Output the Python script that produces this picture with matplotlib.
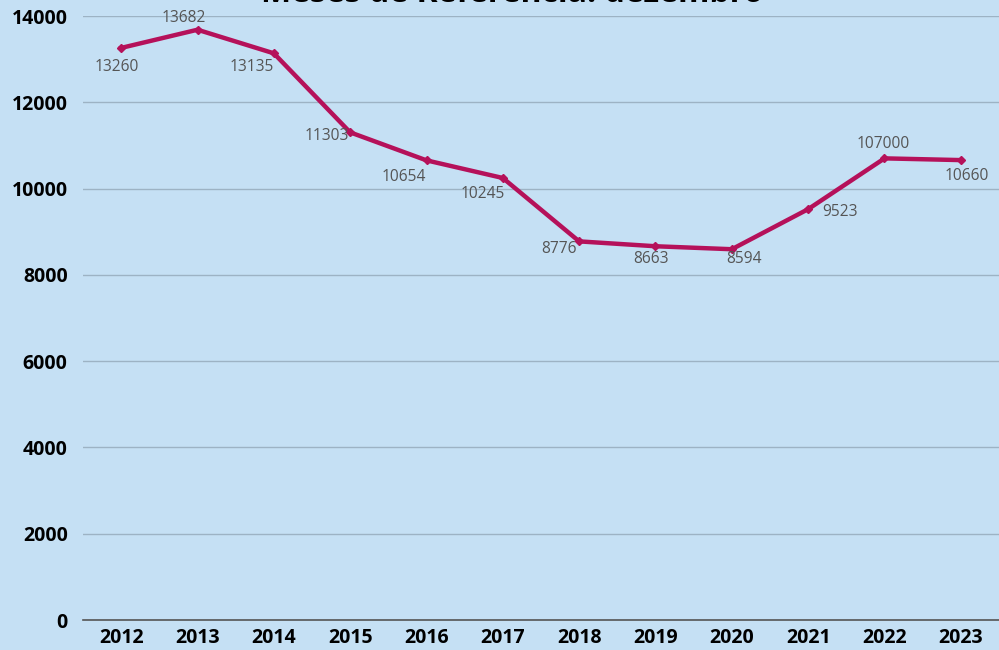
import matplotlib
matplotlib.use("Agg")
import matplotlib.pyplot as plt

years = ["2012", "2013", "2014", "2015", "2016", "2017", "2018", "2019", "2020", "2021", "2022", "2023"]
values = [13260, 13682, 13135, 11303, 10654, 10245, 8776, 8663, 8594, 9523, 10700, 10660]
value_labels = ["13260", "13682", "13135", "11303", "10654", "10245", "8776", "8663", "8594", "9523", "107000", "10660"]
y_ticks = [0, 2000, 4000, 6000, 8000, 10000, 12000, 14000]
title = "Meses de Referência: dezembro"

# label offsets in pixels (dx right, dy down)
label_offsets = [(-4, 19), (-14, -12), (-22, 14), (-23, 4), (-23, 17), (-20, 16),
                 (-20, 8), (-4, 13), (12, 10), (32, 3), (-1, -14), (6, 16)]

plt.rcParams['font.family'] = ['Open Sans', 'DejaVu Sans']
bg = "#C5E0F4"
line_color = "#B5115A"

fig = plt.figure(figsize=(9.99, 6.5), dpi=100, facecolor=bg)
ax = fig.add_axes([83/999, (650-620)/650, (999-83)/999, (620-16)/650])
ax.set_facecolor(bg)

x = list(range(len(years)))
ax.plot(x, values, color=line_color, linewidth=3.2, marker='D', markersize=4,
        markerfacecolor=line_color, markeredgecolor=line_color, solid_joinstyle='round', zorder=3)

for i, (v, lab) in enumerate(zip(values, value_labels)):
    dx, dy = label_offsets[i]
    ax.annotate(lab, (i, v), xytext=(dx * 0.72, -dy * 0.72), textcoords='offset points',
                ha='center', va='center', fontsize=11.2, color="#555555", zorder=4)

ax.set_xlim(-0.5, len(years) - 0.5)
ax.set_ylim(0, 14000)
ax.set_yticks(y_ticks)
ax.set_yticklabels([str(t) for t in y_ticks], fontsize=14, fontweight='bold', color='black')
ax.set_xticks(x)
ax.set_xticklabels(years, fontsize=14, fontweight='bold', color='black')
ax.tick_params(axis='both', length=0)
ax.tick_params(axis='y', pad=11)
ax.tick_params(axis='x', pad=6)

ax.grid(axis='y', color="#9DB3C4", linewidth=1)
ax.set_axisbelow(True)
for s in ['top', 'right', 'left']:
    ax.spines[s].set_visible(False)
ax.spines['bottom'].set_color("#555555")
ax.spines['bottom'].set_linewidth(1.2)
ax.spines['bottom'].set_zorder(2)

fig.text(512/999, 1 - 2/650, title, ha='center', va='baseline', fontsize=23,
         fontweight='bold', color='black')

fig.savefig("out.png", dpi=100, facecolor=bg)
